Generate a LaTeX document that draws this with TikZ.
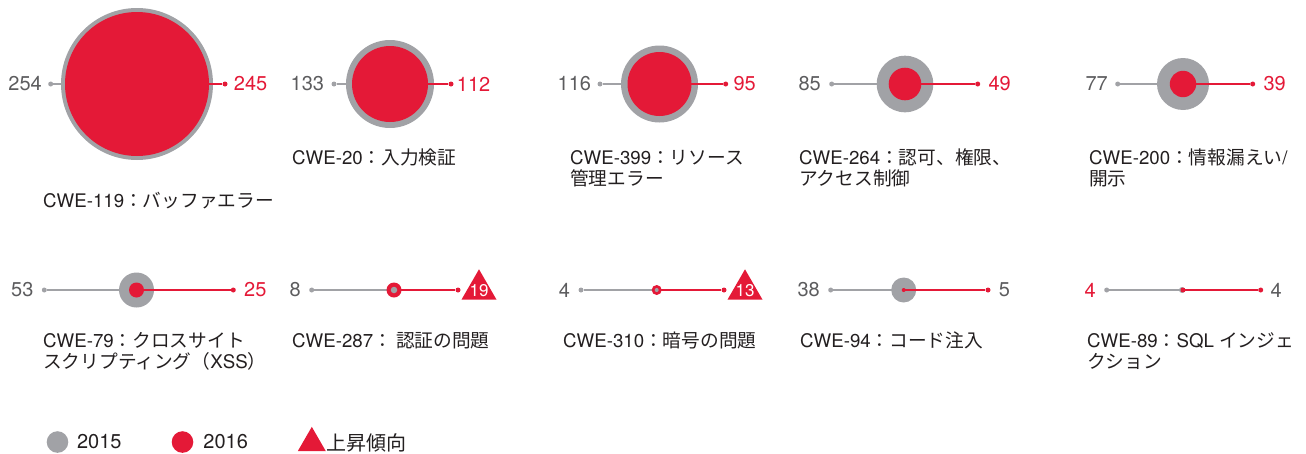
\documentclass[tikz,border=0pt]{standalone}
\usepackage{fontspec}
\setmainfont{TeX Gyre Heros}
\newfontfamily\jp{Noto Sans CJK JP}
\usetikzlibrary{positioning,shapes.geometric}
\definecolor{red16}{RGB}{228,25,55}
\definecolor{grey15}{RGB}{161,162,166}
\definecolor{numgrey}{RGB}{92,92,94}
\definecolor{labblack}{RGB}{35,31,32}
\tikzset{
  gline/.style={draw=grey15, line width=1.2pt},
  rline/.style={draw=red16, line width=1.4pt},
  gdot/.style={circle, fill=grey15, inner sep=0pt, minimum size=5pt},
  rdot/.style={circle, fill=red16, inner sep=0pt, minimum size=5pt},
  gdisc/.style={circle, fill=grey15, inner sep=0pt, minimum size=#1},
  rdisc/.style={circle, fill=red16, inner sep=0pt, minimum size=#1},
  trend/.style={regular polygon, regular polygon sides=3, fill=red16, inner sep=0pt, minimum size=#1},
  tnum/.style={inner sep=0pt, text=white, font=\fontsize{17}{17}\selectfont},
  num/.style={inner sep=0pt, font=\fontsize{20}{20}\selectfont, text=numgrey},
  rnum/.style={num, text=red16},
  lab/.style={inner sep=0pt, anchor=base west, align=left, font=\fontsize{18.7}{21.5}\selectfont, text=labblack},
  leg/.style={inner sep=0pt, font=\fontsize{20}{20}\selectfont, text=labblack}
}
\begin{document}
\begin{tikzpicture}[x=1pt,y=-1pt]
  \useasboundingbox (0,0) rectangle (1306,453);
  % CWE-119
  \coordinate (c119) at (137,84);
  \node[gdot] (l119) at (50.7,84) {};
  \node[rdot] (r119) at (225,84) {};
  \draw[gline] (l119) -- (c119);
  \node[gdisc=152pt] (old119) at (c119) {};
  \draw[rline] (c119) -- (r119);
  \node[rdisc=144pt] (new119) at (c119) {};
  \node[num, left=6pt of l119] (vl119) {254};
  \node[rnum, right=6pt of r119] (vr119) {245};
  \node[lab] (t119) at (43,207) {CWE-119{\jp ：バッファエラー}};
  % CWE-20
  \coordinate (c20) at (390,84);
  \node[gdot] (l20) at (334,84) {};
  \node[rdot] (r20) at (451,84) {};
  \draw[gline] (l20) -- (c20);
  \node[gdisc=88pt] (old20) at (c20) {};
  \draw[rline] (c20) -- (r20);
  \node[rdisc=76pt] (new20) at (c20) {};
  \node[num, left=7pt of l20] (vl20) {133};
  \node[rnum, right=3pt of r20] (vr20) {112};
  \node[lab] (t20) at (292,164) {CWE-20{\jp ：入力検証}};
  % CWE-399
  \coordinate (c399) at (659.5,84);
  \node[gdot] (l399) at (600,84) {};
  \node[rdot] (r399) at (725.7,84) {};
  \draw[gline] (l399) -- (c399);
  \node[gdisc=77pt] (old399) at (c399) {};
  \draw[rline] (c399) -- (r399);
  \node[rdisc=64pt] (new399) at (c399) {};
  \node[num, left=6pt of l399] (vl399) {116};
  \node[rnum, right=5pt of r399] (vr399) {95};
  \node[lab] (t399) at (570,185.5) {CWE-399{\jp ：リソース}\\{\jp 管理エラー}};
  % CWE-264
  \coordinate (c264) at (905,84);
  \node[gdot] (l264) at (831.7,84) {};
  \node[rdot] (r264) at (977.7,84) {};
  \draw[gline] (l264) -- (c264);
  \node[gdisc=56.6pt] (old264) at (c264) {};
  \draw[rline] (c264) -- (r264);
  \node[rdisc=32.6pt] (new264) at (c264) {};
  \node[num, left=8pt of l264] (vl264) {85};
  \node[rnum, right=8pt of r264] (vr264) {49};
  \node[lab] (t264) at (799,185.5) {CWE-264{\jp ：認可、権限、}\\{\jp アクセス制御}};
  % CWE-200
  \coordinate (c200) at (1183,84);
  \node[gdot] (l200) at (1117.7,84) {};
  \node[rdot] (r200) at (1252.7,84) {};
  \draw[gline] (l200) -- (c200);
  \node[gdisc=52pt] (old200) at (c200) {};
  \draw[rline] (c200) -- (r200);
  \node[rdisc=26.4pt] (new200) at (c200) {};
  \node[num, left=7pt of l200] (vl200) {77};
  \node[rnum, right=8pt of r200] (vr200) {39};
  \node[lab] (t200) at (1089,185.5) {CWE-200{\jp ：情報漏えい}/\\{\jp 開示}};
  % CWE-79
  \coordinate (c79) at (136.5,290);
  \node[gdot] (l79) at (44.3,290) {};
  \node[rdot] (r79) at (233.3,290) {};
  \draw[gline] (l79) -- (c79);
  \node[gdisc=35pt] (old79) at (c79) {};
  \draw[rline] (c79) -- (r79);
  \node[rdisc=15pt] (new79) at (c79) {};
  \node[num, left=8pt of l79] (vl79) {53};
  \node[rnum, right=8pt of r79] (vr79) {25};
  \node[lab] (t79) at (43,368.5) {CWE-79{\jp ：クロスサイト}\\{\jp スクリプティング（}XSS{\jp ）}};
  % CWE-287
  \coordinate (c287) at (394,290);
  \node[gdot] (l287) at (311.7,290) {};
  \node[rdot] (r287) at (458,290) {};
  \draw[gline] (l287) -- (c287);
  \draw[rline] (c287) -- (r287);
  \node[rdisc=15pt] (new287) at (c287) {};
  \node[gdisc=6.5pt] (old287) at (c287) {};
  \node[num, left=8pt of l287] (vl287) {8};
  \node[trend=40.4pt] (up287) at (479,289.5) {};
  \node[tnum] (vr287) at (479,290.5) {19};
  \node[lab] (t287) at (292,347) {CWE-287{\jp ： 認証の問題}};
  % CWE-310
  \coordinate (c310) at (656.7,290);
  \node[gdot] (l310) at (581,290) {};
  \node[rdot] (r310) at (724,290) {};
  \draw[gline] (l310) -- (c310);
  \draw[rline] (c310) -- (r310);
  \node[rdisc=10pt] (new310) at (c310) {};
  \node[gdisc=4pt] (old310) at (c310) {};
  \node[num, left=8pt of l310] (vl310) {4};
  \node[trend=40.4pt] (up310) at (745,289.5) {};
  \node[tnum] (vr310) at (745,290.5) {13};
  \node[lab] (t310) at (563,347) {CWE-310{\jp ：暗号の問題}};
  % CWE-94
  \coordinate (c94) at (903.7,290);
  \node[gdot] (l94) at (830.7,290) {};
  \node[rdot] (r94) at (988,290) {};
  \draw[gline] (l94) -- (c94);
  \node[gdisc=25pt] (old94) at (c94) {};
  \draw[rline] (c94) -- (r94);
  \node[rdisc=4pt] (new94) at (c94) {};
  \node[num, left=8pt of l94] (vl94) {38};
  \node[num, right=8pt of r94] (vr94) {5};
  \node[lab] (t94) at (800,347) {CWE-94{\jp ：コード注入}};
  % CWE-89
  \coordinate (c89) at (1182,290);
  \node[gdot] (l89) at (1106.7,290) {};
  \node[rdot] (r89) at (1260.7,290) {};
  \draw[gline] (l89) -- (c89);
  \node[gdisc=6pt] (old89) at (c89) {};
  \draw[rline] (c89) -- (r89);
  \node[rdisc=5pt] (new89) at ([xshift=1pt]c89) {};
  \node[rnum, left=8pt of l89] (vl89) {4};
  \node[num, right=7pt of r89] (vr89) {4};
  \node[lab] (t89) at (1087,368.5) {CWE-89{\jp ：}SQL {\jp インジェ}\\{\jp クション}};
  % legend
  \node[gdisc=21.6pt] (k15) at (57.5,442) {};
  \node[leg, right=8.4pt of k15] (kt15) {2015};
  \node[rdisc=21.6pt] (k16) at (182.5,442) {};
  \node[leg, right=9.7pt of k16] (kt16) {2016};
  \node[trend=32.3pt] (kup) at (311.8,443) {};
  \node[leg, right=5pt of kup] (ktup) {\jp 上昇傾向};
\end{tikzpicture}
\end{document}
